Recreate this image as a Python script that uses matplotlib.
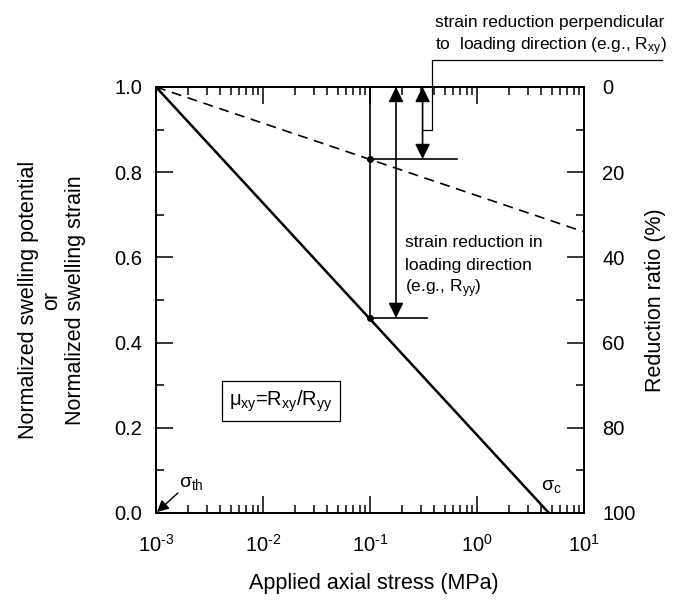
import matplotlib
matplotlib.use("Agg")
import matplotlib.pyplot as plt
from matplotlib.ticker import MultipleLocator, LogLocator, NullFormatter, FuncFormatter
import math

plt.rcParams['font.family'] = ['Liberation Sans', 'DejaVu Sans']
plt.rcParams['mathtext.fontset'] = 'custom'
plt.rcParams['mathtext.rm'] = 'Liberation Sans'
plt.rcParams['mathtext.it'] = 'Liberation Sans'
plt.rcParams['mathtext.bf'] = 'Liberation Sans:bold'

# ---- data ----
solid_stress = [1e-3, 4.7]
solid_value = [1.0, 0.0]
dashed_stress = [1e-3, 10.0]
dashed_value = [1.0, 0.66]
mark_stress = [0.1, 0.1]
mark_value = [0.831, 0.458]
marker_line_end = [0.65, 0.34]
ryy_arrow_x = 0.175
rxy_arrow_x = 0.31
bracket_x = [0.31, 0.38, 0.38, 54.0]
bracket_y = [0.90, 0.90, 1.063, 1.063]
y_ticks = [0.0, 0.2, 0.4, 0.6, 0.8, 1.0]
y_tick_labels = ['0.0', '0.2', '0.4', '0.6', '0.8', '1.0']
right_ticks = [0, 20, 40, 60, 80, 100]

fig = plt.figure(figsize=(6.85, 6.04), dpi=100)
ax = fig.add_axes([156/685, 1-513/604, (584-156)/685, (513-87)/604])

ax.plot(solid_stress, solid_value, color='k', lw=1.8, solid_capstyle='butt')
ax.plot(dashed_stress, dashed_value, color='k', lw=1.2, ls=(0, (6, 4)))

ax.plot([mark_stress[1], mark_stress[1]], [mark_value[1], 1.0], color='k', lw=1.2)
ax.plot(mark_stress, mark_value, 'o', color='k', ms=4)
ax.plot([mark_stress[0], marker_line_end[0]], [mark_value[0]] * 2, color='k', lw=1.2)
ax.plot([mark_stress[1], marker_line_end[1]], [mark_value[1]] * 2, color='k', lw=1.2)

astyle = '<|-|>,head_length=0.6,head_width=0.3'
ax.annotate('', xy=(ryy_arrow_x, mark_value[1]), xytext=(ryy_arrow_x, 1.0),
            arrowprops=dict(arrowstyle=astyle, color='k', lw=1.2,
                            mutation_scale=15, shrinkA=0, shrinkB=0))
ax.annotate('', xy=(rxy_arrow_x, mark_value[0]), xytext=(rxy_arrow_x, 1.0),
            arrowprops=dict(arrowstyle=astyle, color='k', lw=1.2,
                            mutation_scale=15, shrinkA=0, shrinkB=0))

ax.plot(bracket_x, bracket_y, color='k', lw=0.9, clip_on=False)

fs_ann = 12.5
ax.text(0.405, 1.141, 'strain reduction perpendicular', fontsize=fs_ann,
        ha='left', va='baseline', clip_on=False)
ax.text(0.405, 1.087, 'to  loading direction (e.g., R$_{xy}$)', fontsize=fs_ann,
        ha='left', va='baseline', clip_on=False)

ax.text(0.212, 0.624, 'strain reduction in', fontsize=fs_ann, ha='left', va='baseline')
ax.text(0.212, 0.571, 'loading direction', fontsize=fs_ann, ha='left', va='baseline')
ax.text(0.212, 0.517, '(e.g., R$_{yy}$)', fontsize=fs_ann, ha='left', va='baseline')

ax.text(0.0147, 0.263, r'$\mu_{xy}$=R$_{xy}$/R$_{yy}$', fontsize=14.5,
        ha='center', va='center',
        bbox=dict(boxstyle='square,pad=0.35', fc='white', ec='k', lw=0.9))

ax.text(1.64e-3, 0.061, r'$\sigma_{\rm th}$', fontsize=14, ha='left', va='baseline')
ax.annotate('', xy=(1.02e-3, 0.002), xytext=(1.6e-3, 0.047),
            arrowprops=dict(arrowstyle='-|>,head_length=0.5,head_width=0.25',
                            color='k', lw=1.0, mutation_scale=14,
                            shrinkA=0, shrinkB=0))
ax.text(4.0, 0.054, r'$\sigma_{\rm c}$', fontsize=14, ha='left', va='baseline')


def log_fmt(v, pos):
    e = int(round(math.log10(v)))
    if e < 0:
        return r'$10^{\text{-}%d}$' % (-e)
    return r'$10^{%d}$' % e


ax.set_xscale('log')
ax.set_xlim(1e-3, 10)
ax.set_ylim(0, 1.0)
ax.set_yticks(y_ticks)
ax.set_yticklabels(y_tick_labels)
ax.yaxis.set_minor_locator(MultipleLocator(0.1))
ax.xaxis.set_major_locator(LogLocator(base=10, numticks=10))
ax.xaxis.set_major_formatter(FuncFormatter(log_fmt))
ax.xaxis.set_minor_locator(LogLocator(base=10, subs=range(2, 10), numticks=20))
ax.xaxis.set_minor_formatter(NullFormatter())
ax.tick_params(axis='x', which='both', direction='in', top=True, bottom=True)
ax.tick_params(axis='y', which='both', direction='in', left=True, right=False)
ax.tick_params(which='major', length=12, width=1.1, labelsize=14.5, pad=10)
ax.tick_params(which='minor', length=6, width=1.1)
ax.tick_params(axis='x', which='major', pad=15)
for s in ax.spines.values():
    s.set_linewidth(1.4)

ax2 = ax.twinx()
ax2.set_ylim(100, 0)
ax2.set_yticks(right_ticks)
ax2.yaxis.set_minor_locator(MultipleLocator(10))
ax2.tick_params(which='both', direction='in')
ax2.tick_params(which='major', length=12, width=1.1, labelsize=14.5, pad=13)
ax2.tick_params(which='minor', length=6, width=1.1)
for s in ax2.spines.values():
    s.set_linewidth(1.4)

fig.text(374/685, 1-583/604, 'Applied axial stress (MPa)', fontsize=15.5,
         ha='center', va='center')
fig.text(52/685, 1-300/604,
         'Normalized swelling potential\nor\nNormalized swelling strain',
         fontsize=15.5, rotation=90, ha='center', va='center',
         multialignment='center', linespacing=1.15)
fig.text(655/685, 1-300/604, 'Reduction ratio (%)', fontsize=15.5,
         rotation=90, ha='center', va='center')

fig.savefig('out.png', dpi=100)
